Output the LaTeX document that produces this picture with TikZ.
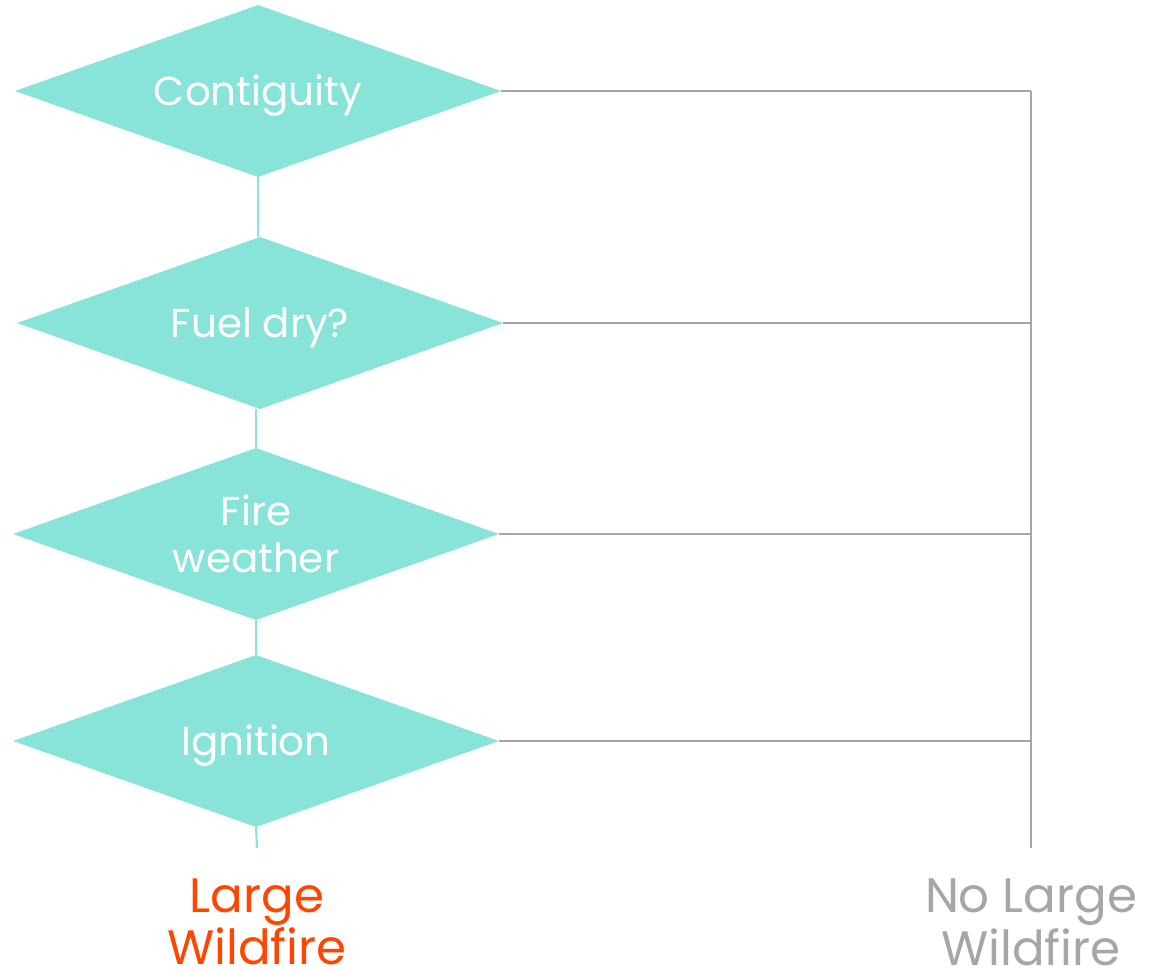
\documentclass[tikz,border=0pt]{standalone}
\usepackage{fontspec}
\setmainfont{Poppins}
\usetikzlibrary{shapes.geometric}

\definecolor{teal}{HTML}{88E3D8}
\definecolor{fire}{HTML}{FF4500}
\definecolor{rail}{HTML}{A6A6A6}

\tikzset{
  question/.style={diamond, fill=teal, draw=none, aspect=2.83, minimum width=9.72cm,
    minimum height=3.44cm, inner sep=0pt, outer sep=0pt, text=white, align=center,
    font=\fontsize{23}{27}\selectfont},
  oneline/.style={text height=23pt, text depth=6pt},
  yes/.style={draw=teal, line width=1.2pt},
  no/.style={draw=rail, line width=1.2pt},
  outcome/.style={align=center, font=\fontsize{27.5}{30}\selectfont}
}

\begin{document}
\begin{tikzpicture}[x=0.02cm, y=-0.02cm]
                \useasboundingbox (0,0) rectangle (1150,973);
                \node [question, oneline] (contig) at (258,91) {Contiguity};
                \node [question, oneline] (fuel) at (260,323) {Fuel dry?};
                \node [question] (weather) at (256,534) {Fire\\weather};
                \node [question, oneline] (ignition) at (256,741) {Ignition};
                \coordinate (yesend) at (257,848);
                \coordinate (railtop) at (1031,91);
                \coordinate (railend) at (1031,848);
                % yes branch
                \draw [yes] (contig.south) -- (contig.south |- fuel.north);
                \draw [yes] (weather.north) -- (weather.north |- fuel.south);
                \draw [yes] (weather.south) -- (weather.south |- ignition.north);
                \draw [yes] (ignition.south) -- (yesend);
                % no branch
                \draw [no] (railtop) -- (railend);
                \foreach \q in {contig, fuel, weather, ignition}
                    \draw [no] (\q.east) -- (\q.east -| railend);
                \node [outcome, text=fire] (large) at (257,922) {Large\\Wildfire};
                \node [outcome, text=rail] (nolarge) at (1031,922) {No Large\\Wildfire};
\end{tikzpicture}
\end{document}
